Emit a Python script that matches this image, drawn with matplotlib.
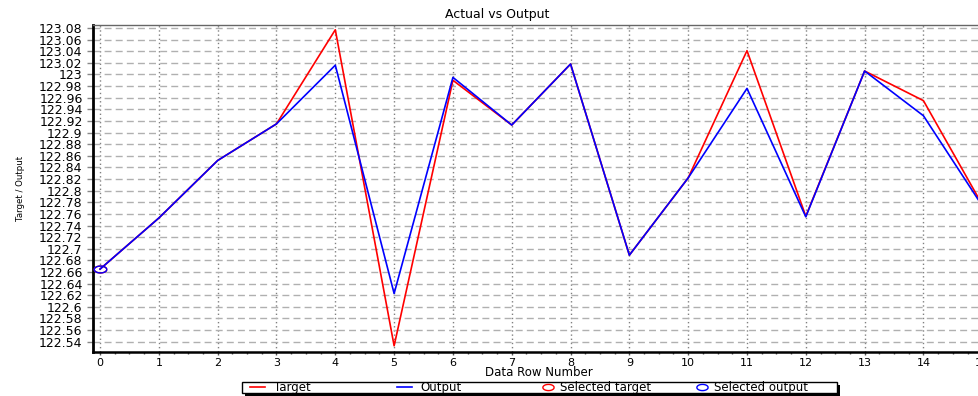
import numpy as np
import matplotlib
matplotlib.use("Agg")
import matplotlib.pyplot as plt
from matplotlib.path import Path
from matplotlib.patches import Rectangle
from matplotlib.ticker import MultipleLocator, FuncFormatter

# ---- data ----
rows = list(range(16))
target = [122.665, 122.753, 122.852, 122.915, 123.077, 122.533, 122.99, 122.913,
          123.018, 122.689, 122.822, 123.041, 122.756, 123.006, 122.955, 122.776]
output = [122.665, 122.753, 122.852, 122.915, 123.016, 122.623, 122.995, 122.913,
          123.018, 122.689, 122.822, 122.976, 122.755, 123.006, 122.929, 122.774]
selected_rows = [0]
title = "Actual vs Output"
xlabel = "Data Row Number"
ylabel = "Target / Output"
legend_labels = ["Target", "Output", "Selected target", "Selected output"]

plt.rcParams['font.family'] = ['DejaVu Sans']

W, H = 979, 396
fig = plt.figure(figsize=(W / 100, H / 100), dpi=100)
# axes in pixel coordinates (right edge extends past the visible figure)
L, R, T, B = 93, 994, 25, 352
ax = fig.add_axes([L / W, 1 - B / H, (R - L) / W, (B - T) / H])

fs = 9

# ellipse marker
th = np.linspace(0, 2 * np.pi, 41)
ell = Path(np.column_stack([np.cos(th), 0.55 * np.sin(th)]))

l1, = ax.plot(rows, target, color="#ff0000", lw=1.2, zorder=3)
l2, = ax.plot(rows, output, color="#0000ff", lw=1.2, zorder=4)
m1, = ax.plot([rows[i] for i in selected_rows], [target[i] for i in selected_rows],
              linestyle="none", marker=ell, markersize=9, markerfacecolor="none",
              markeredgecolor="#ff0000", markeredgewidth=1.0, zorder=5)
m2, = ax.plot([rows[i] for i in selected_rows], [output[i] for i in selected_rows],
              linestyle="none", marker=ell, markersize=9, markerfacecolor="none",
              markeredgecolor="#0000ff", markeredgewidth=1.0, zorder=6)

ax.set_xlim(-0.12, 15.2)
ax.set_ylim(122.5223, 123.0852)

ax.xaxis.set_major_locator(MultipleLocator(1))
ax.xaxis.set_minor_locator(MultipleLocator(0.25))
ax.yaxis.set_major_locator(MultipleLocator(0.02))


def yfmt(v, pos):
    return f"{v:.2f}".rstrip("0").rstrip(".")


ax.yaxis.set_major_formatter(FuncFormatter(yfmt))

ax.tick_params(axis="x", which="major", length=2.5, width=1, color="#555555",
               labelsize=8, pad=1.5, direction="out")
ax.tick_params(axis="x", which="minor", length=1.5, width=1, color="#555555", direction="out")
ax.tick_params(axis="y", which="major", length=4, width=1, color="#888888",
               labelsize=fs, pad=3.5, direction="out")

ax.grid(True, axis="y", which="major", color="#b0b0b0", linestyle=(0, (5, 3)), lw=1)
ax.grid(True, axis="x", which="major", color="#808080", linestyle=(0, (1, 2)), lw=1)
ax.set_axisbelow(True)

ax.spines["right"].set_visible(False)
ax.spines["top"].set_color("#666666")
ax.spines["top"].set_linewidth(1)
ax.spines["left"].set_color("black")
ax.spines["left"].set_linewidth(2)
ax.spines["bottom"].set_color("black")
ax.spines["bottom"].set_linewidth(1.8)

ax.set_title(title, fontsize=fs, x=(497 - L) / (R - L), pad=5)
ax.set_xlabel(xlabel, fontsize=8.5)
ax.xaxis.set_label_coords((539 - L) / (R - L), -(366 - B) / (B - T))
ax.set_ylabel(ylabel, fontsize=6.2)
ax.yaxis.set_label_coords(-(L - 25) / (R - L), (B - 188) / (B - T))

# ---- legend: frame with black shadow, entries at fixed positions ----
lx0, lx1, ly0, ly1 = 242, 837, 382, 393
fig.patches.append(Rectangle(((lx0 + 3) / W, 1 - (ly1 + 3) / H), (lx1 - lx0) / W,
                             (ly1 - ly0) / H, transform=fig.transFigure,
                             facecolor="black", edgecolor="black", lw=0, zorder=1))
fig.patches.append(Rectangle((lx0 / W, 1 - ly1 / H), (lx1 - lx0) / W, (ly1 - ly0) / H,
                             transform=fig.transFigure, facecolor="white",
                             edgecolor="black", lw=1, zorder=2))
handles = [l1, l2, m1, m2]
starts = [250, 397, 543, 697]
hlen = [1.3, 1.3, 0.85, 0.85]
hpad = [0.7, 0.7, 0.55, 0.55]
yc = 1 - (ly0 + ly1) / 2 / H
for h, lab, x0, hl, hp in zip(handles, legend_labels, starts, hlen, hpad):
    lg = fig.legend([h], [lab], loc="center left", bbox_to_anchor=(x0 / W, yc),
                    frameon=False, fontsize=8.5, borderpad=0, borderaxespad=0,
                    handlelength=hl, handletextpad=hp, markerscale=0.9)
    lg.set_zorder(3)

fig.savefig("out.png", dpi=100)
